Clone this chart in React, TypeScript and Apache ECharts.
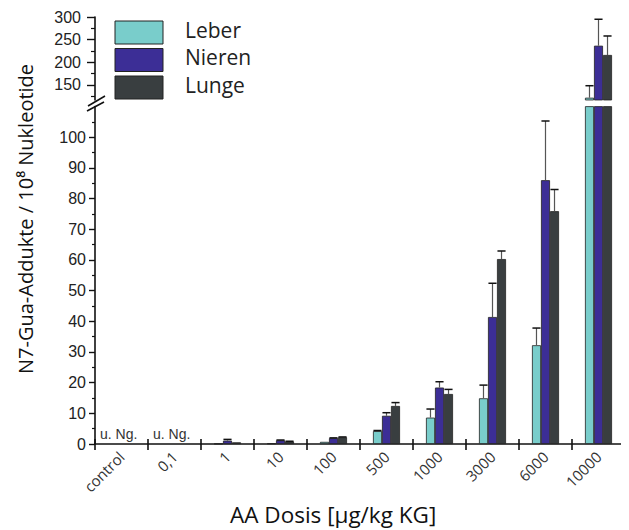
import React, { useEffect, useRef } from "react";
import * as echarts from "echarts";

const categories = ["control", "0,1", "1", "10", "100", "500", "1000", "3000", "6000", "10000"];
const seriesNames = ["Leber", "Nieren", "Lunge"];
const seriesColors = ["#79CDCB", "#3C2E96", "#393E40"];
const leber = [null, null, 0.1, 0.2, 0.7, 4.2, 8.6, 14.9, 32.2, 121.5];
const nieren = [null, null, 1.1, 1.2, 1.9, 9.2, 18.4, 41.4, 86, 236.5];
const lunge = [null, null, 0.55, 0.8, 2.2, 12.4, 16.3, 60.3, 75.9, 216];
const leberErr = [null, null, 0, 0, 0, 0.2, 2.8, 4.3, 5.6, 26.5];
const nierenErr = [null, null, 0.4, 0.1, 0.1, 1.0, 1.9, 11, 19.3, 58.5];
const lungeErr = [null, null, 0, 0.1, 0.1, 1.1, 1.5, 2.6, 7.1, 42];
const notDetected = [0, 1];
const notDetectedLabel = "u. Ng.";
const lowerMajorTicks = [0, 10, 20, 30, 40, 50, 60, 70, 80, 90, 100];
const lowerMinorTicks = [5, 15, 25, 35, 45, 55, 65, 75, 85, 95, 105];
const upperMajorTicks = [150, 200, 250, 300];
const upperMinorTicks = [125, 175, 225, 275];
const LOWER_MAX = 110;
const UPPER_MIN = 116.4;
const UPPER_MAX = 300;

const values = [leber, nieren, lunge];
const errors = [leberErr, nierenErr, lungeErr];
const BAR_FRAC = 0.17;
const CAL = "'Open Sans', 'Noto Sans', sans-serif";
const ARIAL = "'Liberation Sans', Arial, sans-serif";

function errSeries(k: number, xAxisIndex: number, yAxisIndex: number, upper: boolean) {
  const data: any[] = [];
  values[k].forEach((v, i) => {
    const e = errors[k][i];
    if (v == null || e == null || e <= 0) return;
    const inUpper = v > LOWER_MAX;
    if (inUpper === upper) data.push([i, v, e]);
  });
  return {
    type: "custom",
    name: seriesNames[k] + "-err",
    xAxisIndex,
    yAxisIndex,
    clip: true,
    z: 5,
    data,
    encode: { x: 0, y: 1 },
    renderItem: (params: any, api: any) => {
      const i = api.value(0);
      const v = api.value(1);
      const e = api.value(2);
      const base = api.coord([i, v]);
      const top = api.coord([i, v + e]);
      const band = api.size([1, 0])[0];
      const bw = band * BAR_FRAC;
      const x = base[0] + (k - 1) * bw;
      return {
        type: "group",
        children: [
          { type: "line", shape: { x1: x, y1: base[1], x2: x, y2: top[1] }, style: { stroke: "#555", lineWidth: 1.2 } },
          { type: "line", shape: { x1: x - bw * 0.45, y1: top[1], x2: x + bw * 0.45, y2: top[1] }, style: { stroke: "#111", lineWidth: 1.5 } },
        ],
      };
    },
  };
}

export default function App() {
  const ref = useRef<HTMLDivElement>(null);
  useEffect(() => {
    if (!ref.current) return;
    const chart = echarts.init(ref.current, null, { renderer: "svg" });
    const axisLine = { show: true, lineStyle: { color: "#111", width: 1.6 } };
    const barSeries = (gridX: number, gridY: number) =>
      seriesNames.map((n, k) => ({
        type: "bar",
        name: n,
        xAxisIndex: gridX,
        yAxisIndex: gridY,
        data: values[k].map((v) => (v == null ? "-" : v)),
        barWidth: BAR_FRAC * 100 + "%",
        barGap: "0%",
        clip: true,
        itemStyle: { color: seriesColors[k], borderColor: "#222", borderWidth: 0.8 },
      }));
    const staticGraphics: any[] = [];
    seriesNames.forEach((n, k) => {
      staticGraphics.push({
        type: "rect",
        shape: { x: 107, y: 13 + k * 27.5, width: 48, height: 23 },
        style: { fill: seriesColors[k], stroke: "#222", lineWidth: 1 },
      });
      staticGraphics.push({
        type: "text",
        x: 177,
        y: 11 + k * 27.5,
        style: { text: n, font: `21px ${CAL}`, fill: "#222" },
      });
    });
    staticGraphics.push(
      { type: "line", shape: { x1: 79, y1: 103, x2: 96, y2: 94 }, style: { stroke: "#111", lineWidth: 1.6 } },
      { type: "line", shape: { x1: 80, y1: 98, x2: 97, y2: 88 }, style: { stroke: "#111", lineWidth: 1.6 } },
      {
        type: "text",
        left: 222,
        top: 495,
        style: { text: "AA Dosis [µg/kg KG]", font: `22.5px ${CAL}`, fill: "#111" },
      },
      {
        type: "text",
        x: 7,
        y: 366,
        rotation: Math.PI / 2,
        style: { text: "N7-Gua-Addukte / 10⁸ Nukleotide", font: `20px ${CAL}`, fill: "#111" },
      }
    );
    chart.setOption({
      animation: false,
      grid: [
        { left: 87, width: 530, top: 98.6, height: 337.4 },
        { left: 87, width: 530, top: 9, height: 83 },
      ],
      xAxis: [
        {
          type: "category",
          gridIndex: 0,
          position: "bottom",
          data: categories,
          axisLine,
          axisTick: { show: true, interval: 0, length: 6, lineStyle: { color: "#111", width: 1.6 } },
          axisLabel: { show: true, interval: 0, rotate: 45, margin: 10, fontSize: 15, fontFamily: "'Open Sans', sans-serif", color: "#333" },
        },
        {
          type: "category",
          gridIndex: 0,
          position: "bottom",
          data: categories,
          axisLine: { show: false },
          axisTick: { show: true, inside: true, interval: 0, length: 5, lineStyle: { color: "#111", width: 1.6 } },
          axisLabel: { show: false },
        },
        {
          type: "category",
          gridIndex: 1,
          position: "bottom",
          data: categories,
          axisLine: { show: false },
          axisTick: { show: false },
          axisLabel: { show: false },
        },
      ],
      yAxis: [
        {
          type: "value",
          gridIndex: 0,
          position: "left",
          min: 0,
          max: LOWER_MAX,
          interval: 10,
          axisLine,
          splitLine: { show: false },
          axisTick: { show: true, length: 6, customValues: lowerMajorTicks, lineStyle: { color: "#111", width: 1.4 } },
          axisLabel: { customValues: lowerMajorTicks, margin: 9, fontSize: 16, fontFamily: ARIAL, color: "#222" },
        },
        {
          type: "value",
          gridIndex: 0,
          position: "left",
          min: 0,
          max: LOWER_MAX,
          interval: 10,
          axisLine: { show: false },
          splitLine: { show: false },
          axisTick: { show: true, length: 3, customValues: lowerMinorTicks, lineStyle: { color: "#111", width: 1.2 } },
          axisLabel: { show: false },
        },
        {
          type: "value",
          gridIndex: 1,
          position: "left",
          min: UPPER_MIN,
          max: UPPER_MAX,
          axisLine,
          splitLine: { show: false },
          axisTick: { show: true, length: 8, customValues: upperMajorTicks, lineStyle: { color: "#111", width: 1.4 } },
          axisLabel: { customValues: upperMajorTicks, margin: 14, fontSize: 16, fontFamily: ARIAL, color: "#222" },
        },
        {
          type: "value",
          gridIndex: 1,
          position: "left",
          min: UPPER_MIN,
          max: UPPER_MAX,
          axisLine: { show: false },
          splitLine: { show: false },
          axisTick: { show: true, length: 4, customValues: upperMinorTicks, lineStyle: { color: "#111", width: 1.2 } },
          axisLabel: { show: false },
        },
      ],
      series: [
        ...barSeries(0, 0),
        ...barSeries(2, 2),
        errSeries(0, 0, 0, false),
        errSeries(1, 0, 0, false),
        errSeries(2, 0, 0, false),
        errSeries(0, 2, 2, true),
        errSeries(1, 2, 2, true),
        errSeries(2, 2, 2, true),
        {
          type: "custom",
          name: "nd",
          xAxisIndex: 0,
          yAxisIndex: 0,
          data: notDetected.map((i) => [i, 0]),
          encode: { x: 0, y: 1 },
          renderItem: (params: any, api: any) => {
            const p = api.coord([api.value(0), 0]);
            return {
              type: "text",
              x: p[0] - 21.5,
              y: p[1] - 17,
              style: { text: notDetectedLabel, font: `14px ${ARIAL}`, fill: "#333" },
            };
          },
        },
      ],
      graphic: staticGraphics,
    });
    return () => chart.dispose();
  }, []);
  return <div ref={ref} style={{ width: 629, height: 530 }} />;
}
